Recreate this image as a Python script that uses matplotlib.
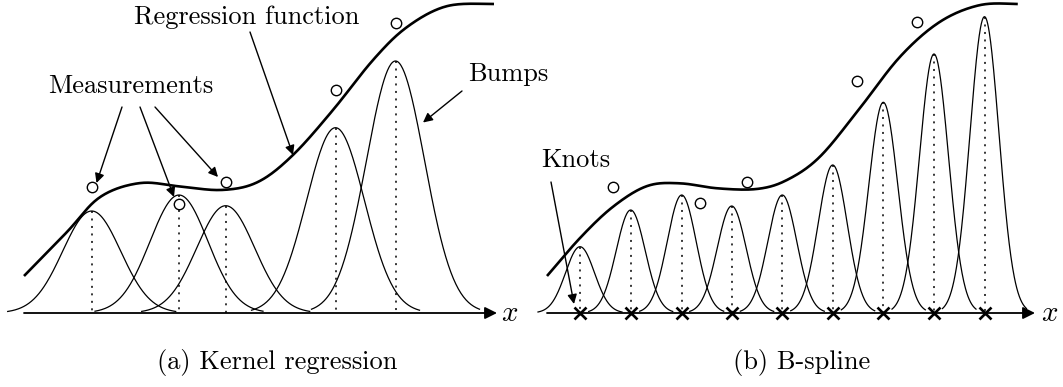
import numpy as np
import matplotlib.pyplot as plt

plt.rcParams['mathtext.fontset'] = 'cm'

# everything is laid out in pixel units, y pointing down
base_y = 313

# (a) kernel regression
ker_centers = [91.7, 179, 225.7, 335.5, 395.5]
ker_peaks = [211, 195, 205.7, 127.7, 61]
ker_sigma = 29
ker_half = 84
ker_meas_x = [91.7, 179, 225.7, 335.5, 395.5]
ker_meas_y = [186.7, 203.5, 182, 90, 22.7]
ker_curve_x = [24, 67, 100, 140, 180, 222, 258, 293, 333, 373, 407, 447, 493]
ker_curve_y = [276, 232, 197, 183, 186.5, 190, 182, 155, 110, 60, 27, 6, 4]

# (b) B-spline
knots = [580, 630.7, 681.7, 731.7, 782.3, 832.7, 883.3, 934, 984.5]
spl_peaks = [246.7, 210, 195, 206, 195, 165, 102.3, 54, 16.7]
spl_sigma = 14.5
spl_half = 42
spl_meas_x = [612.7, 700, 747.3, 856.7, 916.7]
spl_meas_y = [187.3, 203.3, 181.7, 81, 22.3]
spl_curve_x = [547, 580, 613, 647, 680, 717, 757, 787, 820, 860, 900, 940, 980, 1017]
spl_curve_y = [276, 238, 206.7, 186, 183.3, 188.3, 189, 180, 156.7, 108, 56.7, 21.7, 5, 4]


def smooth(xs, ys, n=30, win=9):
    # Catmull-Rom through the listed points, then a light running mean
    p = np.column_stack([xs, ys]).astype(float)
    p = np.vstack([p[0], p, p[-1]])
    out = []
    t = np.linspace(0, 1, n, endpoint=False)[:, None]
    for i in range(1, len(p) - 2):
        p0, p1, p2, p3 = p[i - 1], p[i], p[i + 1], p[i + 2]
        out.append(0.5 * ((2 * p1) + (-p0 + p2) * t + (2 * p0 - 5 * p1 + 4 * p2 - p3) * t ** 2
                          + (-p0 + 3 * p1 - 3 * p2 + p3) * t ** 3))
    out.append(p[-2][None, :])
    out = np.vstack(out)
    k = np.ones(win) / win
    res = []
    for col in out.T:
        padded = np.concatenate([2 * col[0] - col[win // 2:0:-1], col, 2 * col[-1] - col[-2:-win // 2 - 2:-1]])
        res.append(np.convolve(padded, k, mode='valid'))
    return res[0], res[1]


def bump(ax, c, peak, sigma, half):
    x = np.linspace(c - half, c + half, 200)
    y = base_y - (base_y - peak) * np.exp(-(x - c) ** 2 / (2 * sigma ** 2))
    ax.plot(x, y, color='black', lw=0.9)
    ax.plot([c, c], [peak, base_y], color='black', lw=1.1, ls=(0, (1.3, 3.6)))


fig = plt.figure(figsize=(10.63, 3.87), dpi=100)
ax = fig.add_axes([0, 0, 1, 1])
ax.set_xlim(0, 1063)
ax.set_ylim(387, 0)
ax.axis('off')

arrow = dict(arrowstyle='-|>', color='black', lw=1.0, mutation_scale=14, shrinkA=0, shrinkB=0)
axis_arrow = dict(arrowstyle='-|>', color='black', lw=1.3, mutation_scale=18, shrinkA=0, shrinkB=0)
text_kw = dict(family='cmr10', fontsize=19, color='black')

for c, pk in zip(ker_centers, ker_peaks):
    bump(ax, c, pk, ker_sigma, ker_half)
for c, pk in zip(knots, spl_peaks):
    bump(ax, c, pk, spl_sigma, spl_half)

ax.plot(*smooth(ker_curve_x, ker_curve_y), color='black', lw=1.9, solid_capstyle='butt')
ax.plot(*smooth(spl_curve_x, spl_curve_y), color='black', lw=1.9, solid_capstyle='butt')

ax.plot(ker_meas_x, ker_meas_y, 'o', ms=7.5, mfc='white', mec='black', mew=1.0)
ax.plot(spl_meas_x, spl_meas_y, 'o', ms=7.5, mfc='white', mec='black', mew=1.0)
ax.plot(knots, [base_y] * len(knots), 'x', ms=8, mec='black', mew=1.9)

# x axes
ax.annotate('', xy=(497, base_y), xytext=(24, base_y), arrowprops=axis_arrow)
ax.annotate('', xy=(1035, base_y), xytext=(547, base_y), arrowprops=axis_arrow)
ax.text(510, base_y, r'$x$', fontsize=21, ha='center', va='center')
ax.text(1050, base_y, r'$x$', fontsize=21, ha='center', va='center')

# labels with pointers
ax.text(247, 17, 'Regression function', ha='center', va='center', **text_kw)
ax.annotate('', xy=(293, 155), xytext=(250, 32), arrowprops=arrow)

ax.text(131, 86, 'Measurements', ha='center', va='center', **text_kw)
ax.annotate('', xy=(96.5, 183), xytext=(122, 107), arrowprops=arrow)
ax.annotate('', xy=(174, 197), xytext=(140, 107), arrowprops=arrow)
ax.annotate('', xy=(218, 177), xytext=(155, 107), arrowprops=arrow)

ax.text(468, 74, 'Bumps', ha='left', va='center', **text_kw)
ax.annotate('', xy=(423, 122.5), xytext=(462, 91), arrowprops=arrow)

ax.text(541, 160, 'Knots', ha='left', va='center', **text_kw)
ax.annotate('', xy=(574, 304), xytext=(551, 182), arrowprops=arrow)

ax.text(277, 362, '(a) Kernel regression', ha='center', va='center', **text_kw)
ax.text(802, 362, '(b) B-spline', ha='center', va='center', **text_kw)

fig.savefig('out.png', dpi=100)
